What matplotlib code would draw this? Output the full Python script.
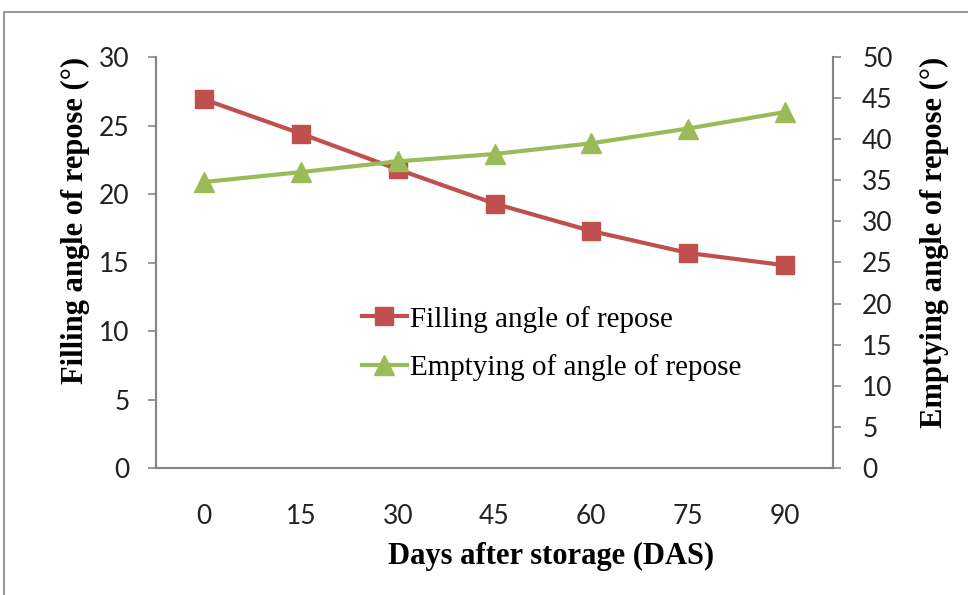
import numpy as np
import matplotlib
matplotlib.use("Agg")
import matplotlib.pyplot as plt
from matplotlib.lines import Line2D

# days after storage and the two angles of repose (degrees)
days = ["0", "15", "30", "45", "60", "75", "90"]
filling = [26.9, 24.4, 21.8, 19.3, 17.3, 15.7, 14.8]
emptying = [34.8, 36.0, 37.3, 38.2, 39.5, 41.3, 43.3]

red = "#C0504D"
green = "#9BBB59"
axis_grey = "#868686"

fig = plt.figure(figsize=(9.68, 5.95), dpi=100)
ax = fig.add_axes([156 / 968, 1 - 468 / 595, 677 / 968, 411 / 595])
ax2 = ax.twinx()

x = np.arange(len(days))
l1, = ax.plot(x, filling, "-s", color=red, lw=3, ms=13, label="Filling angle of repose")
l2, = ax2.plot(x, emptying, "-^", color=green, lw=3, ms=14, label="Emptying of angle of repose")

ax.set_xlim(-0.5, len(days) - 0.5)
ax.set_ylim(0, 30)
ax2.set_ylim(0, 50)
ax.set_xticks(x)
ax.set_xticklabels(days)
ax.set_yticks(np.arange(0, 31, 5))
ax2.set_yticks(np.arange(0, 51, 5))

for lab in ax.get_xticklabels() + ax.get_yticklabels() + ax2.get_yticklabels():
    lab.set_fontfamily("Lato")
    lab.set_fontsize(19)
    lab.set_color("#222222")

ax.tick_params(axis="x", length=0, pad=26)
ax.tick_params(axis="y", length=6, width=1.2, color=axis_grey, pad=13)
ax2.tick_params(axis="y", length=6, width=1.2, color=axis_grey, pad=15)

for a in (ax, ax2):
    a.spines["top"].set_visible(False)
    for s in ("left", "right", "bottom"):
        a.spines[s].set_color(axis_grey)
        a.spines[s].set_linewidth(1.5)

lbl_font = dict(family="Liberation Serif", weight="bold", size=22)
ax.set_xlabel("Days after storage (DAS)", **lbl_font)
ax.xaxis.set_label_coords((551 - 156) / 677, (468 - 556) / 411)
ax.xaxis.label.set_va("center")
ax.set_ylabel("Filling angle of repose (°)", **lbl_font)
ax.yaxis.set_label_coords((75 - 156) / 677, (468 - 220) / 411)
ax.yaxis.label.set_va("center")
ax2.set_ylabel("Emptying angle of repose (°)", **lbl_font)
ax2.yaxis.set_label_coords((934 - 156) / 677, (468 - 242) / 411)
ax2.yaxis.label.set_va("center")

leg = ax2.legend(handles=[l1, l2], loc="upper left",
                 bbox_to_anchor=(350 / 968, 1 - 294 / 595),
                 bbox_transform=fig.transFigure, frameon=False,
                 prop=dict(family="Liberation Serif", size=21),
                 handlelength=1.55, handletextpad=0.1, labelspacing=0.75,
                 borderaxespad=0)

# outer chart border
fig.add_artist(Line2D([4 / 968, 4 / 968], [0, 1 - 12 / 595], color="#9a9a9a", lw=1.5,
                      transform=fig.transFigure))
fig.add_artist(Line2D([4 / 968, 1], [1 - 12 / 595, 1 - 12 / 595], color="#9a9a9a", lw=1.5,
                      transform=fig.transFigure))

fig.savefig("out.png", dpi=100)
